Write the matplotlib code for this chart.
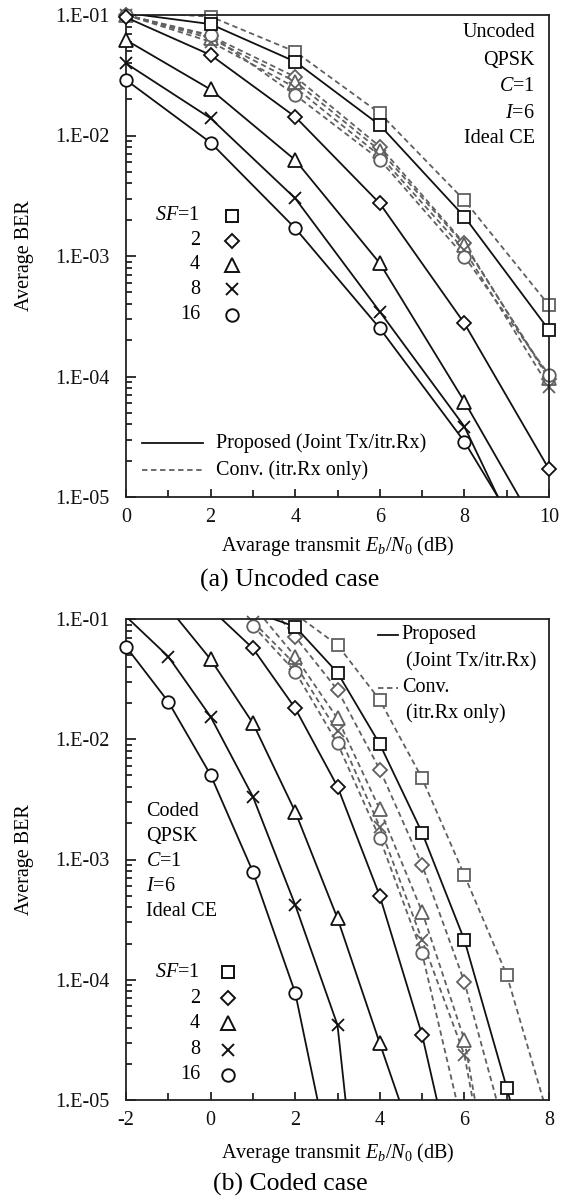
#!/usr/bin/env python3
"""BER vs. Eb/N0 for the uncoded and coded cases (proposed vs. conventional)."""

import matplotlib

matplotlib.use("Agg")
import matplotlib.pyplot as plt
import numpy as np
from matplotlib.ticker import FixedLocator, FuncFormatter, LogLocator, NullFormatter

plt.rcParams["font.family"] = ["Liberation Serif", "DejaVu Serif"]
plt.rcParams["mathtext.fontset"] = "custom"
plt.rcParams["mathtext.rm"] = "Liberation Serif"
plt.rcParams["mathtext.it"] = "Liberation Serif:italic"
plt.rcParams["axes.unicode_minus"] = False

SF_LABELS = ["1", "2", "4", "8", "16"]

# ---- (a) uncoded case -------------------------------------------------------
EBN0_A = [0, 2, 4, 6, 8, 10]
PROP_A_SF1 = [0.104, 0.084, 0.041, 0.0122, 0.00212, 2.43e-4]
PROP_A_SF2 = [0.0956, 0.0466, 0.0143, 0.00273, 2.76e-4, 1.70e-5]
PROP_A_SF4 = [0.062, 0.0241, 0.00626, 8.7e-4, 6.2e-5, 3.7e-6]
PROP_A_SF8 = [0.0397, 0.0139, 0.00301, 3.45e-4, 3.84e-5, 1.3e-6]
PROP_A_SF16 = [0.0289, 0.00873, 0.0017, 2.51e-4, 2.88e-5, 2.0e-6]

CONV_A_SF1 = [0.106, 0.097, 0.0496, 0.0153, 0.0029, 3.9e-4]
CONV_A_SF2 = [0.1, 0.067, 0.0307, 0.0081, 0.00127, 9.5e-5]
CONV_A_SF4 = [0.1, 0.064, 0.028, 0.0075, 0.00124, 9.8e-5]
CONV_A_SF8 = [0.1, 0.060, 0.025, 0.0068, 0.00112, 8.2e-5]
CONV_A_SF16 = [0.1, 0.068, 0.0217, 0.0063, 0.00099, 1.03e-4]

# ---- (b) coded case ---------------------------------------------------------
PROP_B_X_SF1 = [1, 2, 3, 4, 5, 6, 7, 8]
PROP_B_SF1 = [0.115, 0.0863, 0.0358, 0.0091, 0.00167, 2.14e-4, 1.27e-5, 6e-7]
PROP_B_X_SF2 = [0, 1, 2, 3, 4, 5, 6]
PROP_B_SF2 = [0.122, 0.057, 0.0181, 0.00404, 4.97e-4, 3.47e-5, 1e-6]
PROP_B_X_SF4 = [-1, 0, 1, 2, 3, 4, 5]
PROP_B_SF4 = [0.125, 0.0462, 0.0136, 0.0025, 3.24e-4, 2.96e-5, 2.8e-6]
PROP_B_X_SF8 = [-2, -1, 0, 1, 2, 3, 4]
PROP_B_SF8 = [0.105, 0.0487, 0.0154, 0.00333, 4.19e-4, 4.2e-5, 2.2e-8]
PROP_B_X_SF16 = [-2, -1, 0, 1, 2, 3]
PROP_B_SF16 = [0.0589, 0.0205, 0.00505, 7.9e-4, 7.8e-5, 1.6e-6]

CONV_B_X_SF1 = [2, 3, 4, 5, 6, 7, 8]
CONV_B_SF1 = [0.11, 0.0608, 0.0212, 0.00473, 7.4e-4, 1.1e-4, 6.9e-6]
CONV_B_X_SF2 = [1, 2, 3, 4, 5, 6, 7]
CONV_B_SF2 = [0.19, 0.0713, 0.0257, 0.0056, 9.0e-4, 9.6e-5, 4.9e-6]
CONV_B_X_SF4 = [1, 2, 3, 4, 5, 6, 7]
CONV_B_SF4 = [0.13, 0.0487, 0.0149, 0.00261, 3.68e-4, 3.16e-5, 3.2e-7]
CONV_B_X_SF8 = [1, 2, 3, 4, 5, 6, 7]
CONV_B_SF8 = [0.095, 0.042, 0.0116, 0.00187, 2.14e-4, 2.37e-5, 3e-7]
CONV_B_X_SF16 = [1, 2, 3, 4, 5, 6]
CONV_B_SF16 = [0.088, 0.0365, 0.00925, 0.0015, 1.66e-4, 5.2e-6]

MARKERS = [
    {"marker": "s", "ms": 9},
    {"marker": "D", "ms": 7.6},
    {"marker": "^", "ms": 10},
    {"marker": "x", "ms": 8.5},
    {"marker": "o", "ms": 9},
]
SOLID = "#111111"
GRAY = "#606060"
DASH = (0, (3.0, 2.0))
FS = 14.5

W, H = 571, 1197


def _curve(ax, x, y, mk, dashed):
    x = np.asarray(x, float)
    y = np.asarray(y, float)
    color = GRAY if dashed else SOLID
    ls = DASH if dashed else "-"
    z = 2 if dashed else 3
    ax.plot(x, y, linestyle=ls, color=color, lw=1.3, zorder=z)
    keep = (y <= 0.1001) & (y >= 1e-5)
    ax.plot(
        x[keep], y[keep], linestyle="none", marker=mk["marker"], ms=mk["ms"],
        mfc="white", mec=color, mew=1.3, clip_on=False, zorder=z + 0.5,
    )


def _style_axes(ax, xlim, xmajor):
    ax.set_yscale("log")
    ax.set_ylim(1e-5, 1e-1)
    ax.set_xlim(*xlim)
    ax.xaxis.set_major_locator(FixedLocator(xmajor))
    ax.xaxis.set_minor_locator(FixedLocator(np.arange(xlim[0] + 1, xlim[1], 2)))
    ax.yaxis.set_major_locator(LogLocator(base=10))
    ax.yaxis.set_minor_locator(LogLocator(base=10, subs=np.arange(2, 10)))
    ax.yaxis.set_minor_formatter(NullFormatter())
    ax.yaxis.set_major_formatter(
        FuncFormatter(lambda v, _: f"1.E-{int(round(-np.log10(v))):02d}")
    )
    ax.tick_params(which="both", direction="in", top=False, right=False,
                   labelsize=FS, colors="#111111", width=1.2)
    ax.tick_params(axis="y", which="major", length=7, pad=12)
    ax.tick_params(axis="y", which="minor", length=4)
    ax.tick_params(axis="x", which="major", length=6, pad=8)
    ax.tick_params(axis="x", which="minor", length=5)
    for sp in ax.spines.values():
        sp.set_linewidth(1.3)
        sp.set_color("#222222")


def _sf_legend(ax, xm, xt, ys):
    for i, (mk, lab) in enumerate(zip(MARKERS, SF_LABELS)):
        text = r"$SF$=" + lab if i == 0 else lab
        ax.text(xt, ys[i], text, transform=ax.transAxes, ha="right", va="center",
                fontsize=FS)
        ax.plot([xm], [ys[i]], transform=ax.transAxes, linestyle="none",
                marker=mk["marker"], ms=mk["ms"], mfc="white",
                mec=SOLID, mew=1.4, clip_on=False)


def plot_uncoded(fig):
    ax = fig.add_axes([126 / W, 1 - 497 / H, 423 / W, 482 / H])
    conv = [CONV_A_SF1, CONV_A_SF2, CONV_A_SF4, CONV_A_SF8, CONV_A_SF16]
    prop = [PROP_A_SF1, PROP_A_SF2, PROP_A_SF4, PROP_A_SF8, PROP_A_SF16]
    for mk, y in zip(MARKERS, conv):
        _curve(ax, EBN0_A, y, mk, dashed=True)
    for mk, y in zip(MARKERS, prop):
        _curve(ax, EBN0_A, y, mk, dashed=False)
    _style_axes(ax, (0, 10), [0, 2, 4, 6, 8, 10])

    info = ["Uncoded", "QPSK", r"$C$=1", r"$I$=6", "Ideal CE"]
    for txt, y in zip(info, [0.963, 0.906, 0.851, 0.795, 0.743]):
        ax.text(0.967, y, txt, transform=ax.transAxes, ha="right", va="center",
                fontsize=FS)

    _sf_legend(ax, 0.2506, 0.175, [0.583, 0.532, 0.482, 0.431, 0.378])

    ax.plot([0.038, 0.182], [0.112, 0.112], transform=ax.transAxes, color=SOLID, lw=1.3)
    ax.plot([0.038, 0.182], [0.056, 0.056], transform=ax.transAxes, color=GRAY,
            lw=1.3, linestyle=DASH)
    ax.text(0.213, 0.112, "Proposed (Joint Tx/itr.Rx)", transform=ax.transAxes,
            va="center", fontsize=FS)
    ax.text(0.213, 0.056, "Conv. (itr.Rx only)", transform=ax.transAxes,
            va="center", fontsize=FS)

    fig.text(338 / W, 1 - 546 / H, r"Avarage transmit $E_b$/$N_0$ (dB)",
             ha="center", va="center", fontsize=FS)
    fig.text(290 / W, 1 - 580 / H, "(a) Uncoded case", ha="center", va="center",
             fontsize=18.5)
    fig.text(25 / W, 1 - 256 / H, "Average BER", rotation=90, ha="center",
             va="center", fontsize=FS)


def plot_coded(fig):
    ax = fig.add_axes([126 / W, 1 - 1100 / H, 423 / W, 481 / H])
    conv = [
        (CONV_B_X_SF1, CONV_B_SF1), (CONV_B_X_SF2, CONV_B_SF2),
        (CONV_B_X_SF4, CONV_B_SF4), (CONV_B_X_SF8, CONV_B_SF8),
        (CONV_B_X_SF16, CONV_B_SF16),
    ]
    prop = [
        (PROP_B_X_SF1, PROP_B_SF1), (PROP_B_X_SF2, PROP_B_SF2),
        (PROP_B_X_SF4, PROP_B_SF4), (PROP_B_X_SF8, PROP_B_SF8),
        (PROP_B_X_SF16, PROP_B_SF16),
    ]
    for mk, (x, y) in zip(MARKERS, conv):
        _curve(ax, x, y, mk, dashed=True)
    for mk, (x, y) in zip(MARKERS, prop):
        _curve(ax, x, y, mk, dashed=False)
    _style_axes(ax, (-2, 8), [-2, 0, 2, 4, 6, 8])

    info = ["Coded", "QPSK", r"$C$=1", r"$I$=6", "Ideal CE"]
    for txt, y in zip(info, [0.599, 0.547, 0.495, 0.443, 0.391]):
        ax.text(0.047, y, txt, transform=ax.transAxes, ha="left", va="center",
                fontsize=FS)

    _sf_legend(ax, 0.241, 0.175, [0.266, 0.212, 0.160, 0.104, 0.052])

    ax.plot([0.596, 0.643], [0.967, 0.967], transform=ax.transAxes, color=SOLID, lw=1.3)
    ax.plot([0.596, 0.643], [0.857, 0.857], transform=ax.transAxes, color=GRAY,
            lw=1.3, linestyle=DASH)
    ax.text(0.652, 0.967, "Proposed", transform=ax.transAxes, va="center", fontsize=FS)
    ax.text(0.662, 0.911, "(Joint Tx/itr.Rx)", transform=ax.transAxes, va="center",
            fontsize=FS)
    ax.text(0.652, 0.857, "Conv.", transform=ax.transAxes, va="center", fontsize=FS)
    ax.text(0.662, 0.805, "(itr.Rx only)", transform=ax.transAxes, va="center",
            fontsize=FS)

    fig.text(338 / W, 1 - 1153 / H, r"Average transmit $E_b$/$N_0$ (dB)",
             ha="center", va="center", fontsize=FS)
    fig.text(290 / W, 1 - 1184 / H, "(b) Coded case", ha="center", va="center",
             fontsize=18.5)
    fig.text(25 / W, 1 - 860 / H, "Average BER", rotation=90, ha="center",
             va="center", fontsize=FS)


def main():
    fig = plt.figure(figsize=(W / 100, H / 100), dpi=100)
    plot_uncoded(fig)
    plot_coded(fig)
    fig.savefig("out.png", dpi=100)
    plt.close(fig)


if __name__ == "__main__":
    main()
